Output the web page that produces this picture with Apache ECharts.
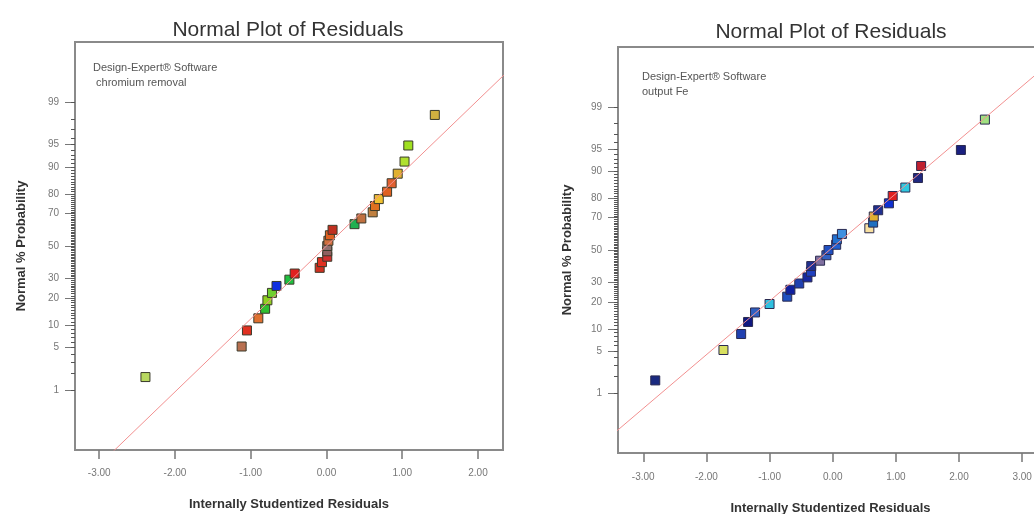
<!DOCTYPE html>
<html>
<head>
<meta charset="utf-8">
<title>Normal Plot of Residuals</title>
<script src="https://cdn.jsdelivr.net/npm/echarts@6/dist/echarts.min.js"></script>
<style>
  html, body { margin: 0; padding: 0; background: #fff; }
  #chart { width: 1034px; height: 514px; }
</style>
</head>
<body>
<div id="chart"></div>
<script>
(function () {
    // ---- data ----
    // left panel: chromium removal
    const leftResid = [-2.39, -1.12, -1.05, -0.90, -0.81, -0.78, -0.72, -0.66, -0.49, -0.42,
        -0.09, -0.06, 0.01, 0.01, 0.01, 0.025, 0.045, 0.08, 0.37, 0.46,
        0.61, 0.64, 0.69, 0.80, 0.86, 0.94, 1.03, 1.08, 1.43];
    const leftPct = [1.7, 5.2, 8.6, 12.1, 15.5, 19.0, 22.4, 25.9, 29.3, 32.8,
        36.2, 39.7, 43.1, 46.6, 50.0, 53.4, 56.9, 60.3, 63.8, 67.2,
        70.7, 74.1, 77.6, 81.0, 84.5, 87.9, 91.4, 94.8, 98.3];
    const leftColors = ['#b8d860', '#b87050', '#e03020', '#e07030', '#30c030', '#90d020', '#70d030', '#1030e0', '#20c040', '#e02020',
        '#d03020', '#e03020', '#d03030', '#906060', '#907070', '#d07040', '#e06020', '#c03020', '#20b050', '#c07040',
        '#c08040', '#e07020', '#f0c030', '#e06020', '#e06030', '#e0b030', '#b0e030', '#a0e020', '#d0b040'];

    // right panel: output Fe
    const rightResid = [-2.81, -1.73, -1.45, -1.34, -1.23, -1.00, -0.72, -0.67, -0.53, -0.40,
        -0.345, -0.34, -0.20, -0.10, -0.066, 0.055, 0.066, 0.146, 0.58, 0.64,
        0.65, 0.72, 0.89, 0.95, 1.15, 1.35, 1.40, 2.03, 2.41];
    const rightPct = [1.7, 5.2, 8.6, 12.1, 15.5, 19.0, 22.4, 25.9, 29.3, 32.8,
        36.2, 39.7, 43.1, 46.6, 50.0, 53.4, 56.9, 60.3, 63.8, 67.2,
        70.7, 74.1, 77.6, 81.0, 84.5, 87.9, 91.4, 94.8, 98.3];
    const rightColors = ['#1a2a80', '#d8e060', '#2040b0', '#101880', '#3060c0', '#30c0e0', '#2050c0', '#1020a0', '#2040b0', '#1828a0',
        '#2040c0', '#203090', '#8070a0', '#3060c0', '#2050c0', '#2060d0', '#2070d0', '#4090e0', '#f8e0a0', '#2070c0',
        '#e0b030', '#203090', '#1030d0', '#e02020', '#30c8e0', '#202880', '#c02030', '#1a2080', '#a0e080'];

    // fitted reference lines (end points, clipped by the frame)
    const leftFitResid = [-3.0, 2.4];
    const leftFitPct = [0.02, 99.77];
    const rightFitResid = [-3.5, 3.4];
    const rightFitPct = [0.13, 99.87];

    const pctTicks = [1, 5, 10, 20, 30, 50, 70, 80, 90, 95, 99];
    const leftXTicks = [-3, -2, -1, 0, 1, 2];
    const rightXTicks = [-3, -2, -1, 0, 1, 2, 3];

    // inverse normal cdf (probability scale)
    function probit(p) {
        const a = [-3.969683028665376e+01, 2.209460984245205e+02, -2.759285104469687e+02, 1.383577518672690e+02, -3.066479806614716e+01, 2.506628277459239e+00];
        const b = [-5.447609879822406e+01, 1.615858368580409e+02, -1.556989798598866e+02, 6.680131188771972e+01, -1.328068155288572e+01];
        const c = [-7.784894002430293e-03, -3.223964580411365e-01, -2.400758277161838e+00, -2.549732539343734e+00, 4.374664141464968e+00, 2.938163982698783e+00];
        const d = [7.784695709041462e-03, 3.224671290700398e-01, 2.445134137142996e+00, 3.754408661907416e+00];
        const pl = 0.02425;
        let q, r;
        if (p < pl) {
            q = Math.sqrt(-2 * Math.log(p));
            return (((((c[0] * q + c[1]) * q + c[2]) * q + c[3]) * q + c[4]) * q + c[5]) /
                ((((d[0] * q + d[1]) * q + d[2]) * q + d[3]) * q + 1);
        }
        if (p <= 1 - pl) {
            q = p - 0.5;
            r = q * q;
            return (((((a[0] * r + a[1]) * r + a[2]) * r + a[3]) * r + a[4]) * r + a[5]) * q /
                (((((b[0] * r + b[1]) * r + b[2]) * r + b[3]) * r + b[4]) * r + 1);
        }
        q = Math.sqrt(-2 * Math.log(1 - p));
        return -(((((c[0] * q + c[1]) * q + c[2]) * q + c[3]) * q + c[4]) * q + c[5]) /
            ((((d[0] * q + d[1]) * q + d[2]) * q + d[3]) * q + 1);
    }
    const z = pct => probit(pct / 100);

    const majorZ = pctTicks.map(z);
    const minorZ = [];
    for (let i = 1; i <= 99; i++) minorZ.push(z(i));

    function pctLabel(v) {
        let best = 0;
        majorZ.forEach((m, i) => { if (Math.abs(m - v) < Math.abs(majorZ[best] - v)) best = i; });
        return String(pctTicks[best]);
    }

    const frameColor = '#8a8a8a';
    const labelStyle = { color: '#777', fontSize: 10, fontFamily: 'Liberation Sans, Arial' };
    const nameStyle = { color: '#333', fontSize: 13, fontWeight: 'bold', fontFamily: 'Liberation Sans, Arial' };

    function points(resid, pct, colors) {
        return resid.map((r, i) => ({
            value: [r, z(pct[i])],
            itemStyle: { color: colors[i] }
        }));
    }
    function fit(resid, pct) {
        return resid.map((r, i) => [r, z(pct[i])]);
    }

    function xAxis(idx, min, max, ticks, nameGap, margin) {
        return {
            type: 'value', gridIndex: idx, min: min, max: max, position: 'bottom',
            name: 'Internally Studentized Residuals', nameLocation: 'middle', nameGap: nameGap,
            nameTextStyle: nameStyle,
            axisLine: { show: true, onZero: false, lineStyle: { color: frameColor, width: 2 } },
            axisTick: { show: true, length: 9, customValues: ticks, lineStyle: { color: '#777', width: 1.5 } },
            axisLabel: { customValues: ticks, margin: margin, formatter: v => v.toFixed(2), ...labelStyle },
            splitLine: { show: false }
        };
    }
    function yAxes(idx, nameGap) {
        return [{
            type: 'value', gridIndex: idx, min: -3.3, max: 3.3, position: 'left',
            name: 'Normal % Probability', nameLocation: 'middle', nameGap: nameGap, nameRotate: 90,
            nameTextStyle: nameStyle,
            axisLine: { show: true, onZero: false, lineStyle: { color: frameColor, width: 2 } },
            axisTick: { show: true, length: 10, customValues: majorZ, lineStyle: { color: '#777', width: 1 } },
            axisLabel: { customValues: majorZ, margin: 16, formatter: pctLabel, ...labelStyle },
            splitLine: { show: false }
        }, {
            type: 'value', gridIndex: idx, min: -3.3, max: 3.3, position: 'left',
            axisLine: { show: false, onZero: false },
            axisTick: { show: true, length: 4, customValues: minorZ, lineStyle: { color: '#555', width: 1 } },
            axisLabel: { show: false },
            splitLine: { show: false }
        }];
    }

    const textFont = 'Liberation Sans, Arial';
    const option = {
        animation: false,
        backgroundColor: '#fff',
        grid: [
            { left: 75, top: 42, width: 428, height: 408, outerBoundsMode: 'none', containLabel: false,
              show: true, borderColor: frameColor, borderWidth: 2 },
            { left: 618, top: 47, width: 425, height: 406, outerBoundsMode: 'none', containLabel: false,
              show: true, borderColor: frameColor, borderWidth: 2 }
        ],
        xAxis: [
            xAxis(0, -3.32, 2.33, leftXTicks, 48, 18),
            xAxis(1, -3.40, 3.33, rightXTicks, 49, 19)
        ],
        yAxis: [].concat(yAxes(0, 47), yAxes(1, 44)),
        graphic: [
            { type: 'text', x: 288, y: 30, style: { text: 'Normal Plot of Residuals', fill: '#333', font: '21px ' + textFont, textAlign: 'center', textVerticalAlign: 'middle' } },
            { type: 'text', x: 831, y: 32, style: { text: 'Normal Plot of Residuals', fill: '#333', font: '21px ' + textFont, textAlign: 'center', textVerticalAlign: 'middle' } },
            { type: 'text', x: 93, y: 68, style: { text: 'Design-Expert® Software', fill: '#555', font: '11px ' + textFont, textVerticalAlign: 'middle' } },
            { type: 'text', x: 93, y: 83, style: { text: ' chromium removal', fill: '#555', font: '11px ' + textFont, textVerticalAlign: 'middle' } },
            { type: 'text', x: 642, y: 77, style: { text: 'Design-Expert® Software', fill: '#555', font: '11px ' + textFont, textVerticalAlign: 'middle' } },
            { type: 'text', x: 642, y: 92, style: { text: 'output Fe', fill: '#555', font: '11px ' + textFont, textVerticalAlign: 'middle' } }
        ],
        series: [
            {
                type: 'line', xAxisIndex: 0, yAxisIndex: 0, data: fit(leftFitResid, leftFitPct),
                symbol: 'none', lineStyle: { color: '#f29090', width: 1 }, silent: true, clip: true
            },
            {
                type: 'scatter', xAxisIndex: 0, yAxisIndex: 0, data: points(leftResid, leftPct, leftColors),
                symbol: 'rect', symbolSize: 9, itemStyle: { borderColor: '#3a3a2a', borderWidth: 1, opacity: 1 }
            },
            {
                type: 'line', xAxisIndex: 1, yAxisIndex: 2, data: fit(rightFitResid, rightFitPct),
                symbol: 'none', lineStyle: { color: '#f29090', width: 1 }, silent: true, clip: true
            },
            {
                type: 'scatter', xAxisIndex: 1, yAxisIndex: 2, data: points(rightResid, rightPct, rightColors),
                symbol: 'rect', symbolSize: 9, itemStyle: { borderColor: '#2a2a50', borderWidth: 1, opacity: 1 }
            }
        ]
    };

    const myChart = echarts.init(document.getElementById('chart'), null, { renderer: 'canvas' });
    myChart.setOption(option);
}());
</script>
</body>
</html>
